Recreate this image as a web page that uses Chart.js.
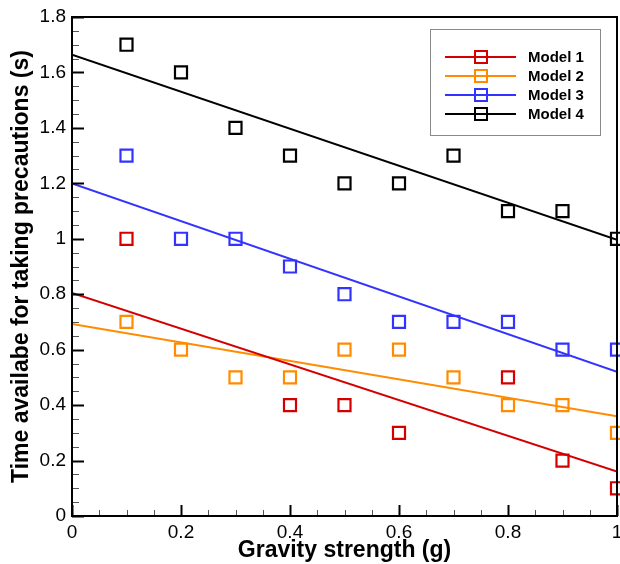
<!DOCTYPE html>
<html>
<head>
<meta charset="utf-8">
<script src="https://cdn.jsdelivr.net/npm/chart.js@4"></script>
<style>
  html, body { margin: 0; padding: 0; background: #fff; }
  #wrap { width: 620px; height: 564px; }
</style>
</head>
<body>
<div id="wrap"><canvas id="chart" width="620" height="564"></canvas></div>
<script>
// Observed points (x = gravity strength in g)
const gravity = [0.1, 0.2, 0.3, 0.4, 0.5, 0.6, 0.7, 0.8, 0.9, 1.0];
const model1 = [1.0, null, null, 0.4, 0.4, 0.3, null, 0.5, 0.2, 0.1];
const model2 = [0.7, 0.6, 0.5, 0.5, 0.6, 0.6, 0.5, 0.4, 0.4, 0.3];
const model3 = [1.3, 1.0, 1.0, 0.9, 0.8, 0.7, 0.7, 0.7, 0.6, 0.6];
const model4 = [1.7, 1.6, 1.4, 1.3, 1.2, 1.2, 1.3, 1.1, 1.1, 1.0];

// Fitted trend lines, value at x=0 and x=1
const fitX = [0, 1];
const fit1 = [0.805, 0.16];
const fit2 = [0.693, 0.36];
const fit3 = [1.20, 0.52];
const fit4 = [1.664, 0.996];

const labels = ['Model 1', 'Model 2', 'Model 3', 'Model 4'];
const colors = ['#d40000', '#ff8c00', '#3333ff', '#000000'];

const toXY = (xs, ys) => xs.map((x, i) => ({ x: x, y: ys[i] })).filter(p => p.y !== null);

const pointSets = [model1, model2, model3, model4];
const fitSets = [fit1, fit2, fit3, fit4];

const datasets = [];
fitSets.forEach((f, i) => {
    datasets.push({
        label: labels[i] + ' fit', data: toXY(fitX, f), showLine: true,
        borderColor: colors[i], borderWidth: 2, pointRadius: 0, fill: false
    });
});
pointSets.forEach((p, i) => {
    datasets.push({
        label: labels[i], data: toXY(gravity, p), showLine: false,
        borderColor: colors[i], backgroundColor: 'rgba(0,0,0,0)',
        pointStyle: 'rect', pointRadius: 8.5, pointBorderWidth: 2.2, clip: false
    });
});

// inward major/minor ticks, frame and boxed legend
const framePlugin = {
    id: 'frame',
    afterDatasetsDraw(chart) {
        const ctx = chart.ctx;
        const a = chart.chartArea;
        const xs = chart.scales.x, ys = chart.scales.y;
        ctx.save();
        for (let k = 0; k <= 20; k++) {
            const v = k * 0.05;
            const major = k % 4 === 0;
            const px = Math.round(xs.getPixelForValue(v)) + 0.5;
            ctx.beginPath();
            ctx.strokeStyle = major ? '#000' : '#555';
            ctx.lineWidth = major ? 2 : 1;
            ctx.moveTo(px, a.bottom);
            ctx.lineTo(px, a.bottom - (major ? 11 : 6));
            ctx.stroke();
        }
        for (let k = 0; k <= 36; k++) {
            const v = k * 0.05;
            const major = k % 4 === 0;
            const py = Math.round(ys.getPixelForValue(v)) + 0.5;
            ctx.beginPath();
            ctx.strokeStyle = major ? '#000' : '#555';
            ctx.lineWidth = major ? 2 : 1;
            ctx.moveTo(a.left, py);
            ctx.lineTo(a.left + (major ? 12 : 7), py);
            ctx.stroke();
        }
        ctx.strokeStyle = '#000';
        ctx.lineWidth = 2;
        ctx.strokeRect(a.left, a.top, a.right - a.left, a.bottom - a.top);

        // legend box
        const bx = 430, by = 29, bw = 170, bh = 106;
        ctx.fillStyle = '#fff';
        ctx.fillRect(bx, by, bw, bh);
        ctx.strokeStyle = '#8a8a8a';
        ctx.lineWidth = 1;
        ctx.strokeRect(bx + 0.5, by + 0.5, bw, bh);
        const rows = [57, 76, 95, 114];
        ctx.font = 'bold 15px "Liberation Sans", Arial, sans-serif';
        ctx.textBaseline = 'middle';
        labels.forEach((lab, i) => {
            const y = rows[i];
            ctx.strokeStyle = colors[i];
            ctx.lineWidth = 2;
            ctx.beginPath();
            ctx.moveTo(445, y);
            ctx.lineTo(516, y);
            ctx.stroke();
            ctx.strokeRect(475, y - 6, 12, 12);
            ctx.fillStyle = '#000';
            ctx.fillText(lab, 528, y + 1);
        });
        ctx.restore();
    }
};

const tickFont = { family: '"Liberation Sans", Arial, sans-serif', size: 19 };
const titleFont = { family: '"Liberation Sans", Arial, sans-serif', size: 23, weight: 'bold' };

new Chart(document.getElementById('chart'), {
    type: 'scatter',
    data: { datasets: datasets },
    options: {
        responsive: false, animation: false,
        layout: { autoPadding: false, padding: { top: 17, right: 3, left: 0, bottom: 0 } },
        plugins: { legend: { display: false }, tooltip: { enabled: false } },
        scales: {
            x: {
                type: 'linear', min: 0, max: 1,
                afterFit: s => { s.height = 48; s.paddingLeft = 0; s.paddingRight = 0; },
                grid: { display: false, drawTicks: false },
                border: { display: false },
                ticks: { stepSize: 0.2, color: '#000', font: tickFont, padding: 5,
                    maxRotation: 0, callback: v => String(+v.toFixed(1)) },
                title: { display: true, text: 'Gravity strength (g)', color: '#000',
                    font: titleFont, padding: { top: 0, bottom: 0 } }
            },
            y: {
                type: 'linear', min: 0, max: 1.8,
                afterFit: s => { s.width = 72; s.paddingTop = 0; s.paddingBottom = 0; },
                grid: { display: false, drawTicks: false },
                border: { display: false },
                ticks: { stepSize: 0.2, color: '#000', font: tickFont, padding: 6,
                    callback: v => String(+v.toFixed(1)) },
                title: { display: true, text: 'Time availabe for taking precautions (s)', color: '#000',
                    font: titleFont, padding: { top: 8, bottom: 0 } }
            }
        }
    },
    plugins: [framePlugin]
});
</script>
</body>
</html>
